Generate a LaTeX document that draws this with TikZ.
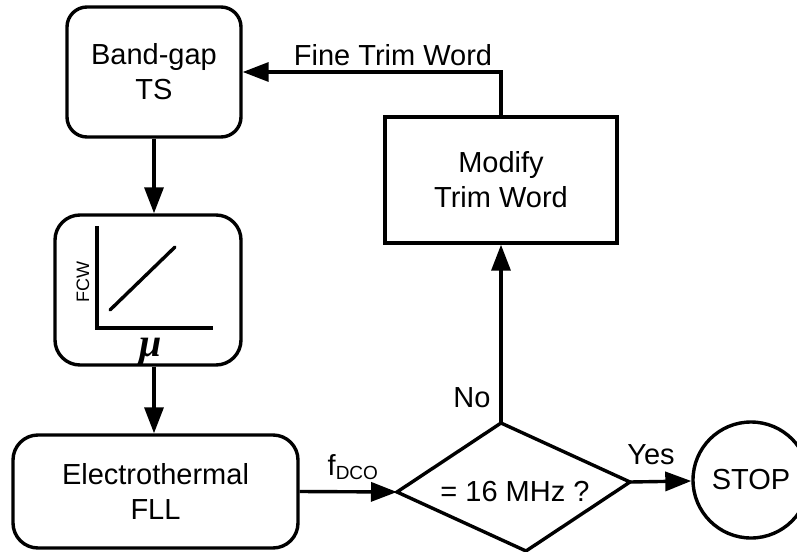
\documentclass[tikz,border=0pt]{standalone}
\usepackage{fontspec}
\setmainfont{Liberation Sans}
\newfontfamily\mufont{Liberation Serif}
\usetikzlibrary{arrows.meta}
\begin{document}
\begin{tikzpicture}[x=1pt,y=-1pt,
  line width=3.4pt,
  txt/.style={font=\fontsize{29}{35}\selectfont, align=center, inner sep=0pt},
  rbox/.style={txt, draw, rounded corners=#1},
  sqbox/.style={txt, draw},
  flow/.style={-{Triangle[length=26pt,width=19pt]}},
  lbl/.style={font=\fontsize{29}{35}\selectfont, inner sep=0pt}]
\useasboundingbox (0,0) rectangle (797,551);

% blocks
\node[rbox=20pt, minimum width=174pt, minimum height=130pt] (bg) at (154,72) {Band-gap\\TS};
\node[rbox=25pt, minimum width=186pt, minimum height=150pt] (fcw) at (148,290) {};
\node[rbox=25pt, minimum width=285pt, minimum height=113pt] (eth) at (155.5,491.5) {Electrothermal\\FLL};
\node[sqbox, minimum width=232pt, minimum height=126pt] (mod) at (501,180) {Modify\\Trim Word};
\node[txt, draw, circle, minimum size=116pt] (stop) at (751,480) {STOP};

% decision (skewed diamond)
\coordinate (dL) at (397,492);
\coordinate (dT) at (501,423);
\coordinate (dR) at (630,482);
\coordinate (dB) at (526,551);
\draw[line join=miter] (dL) -- (dT) -- (dR) -- (dB) -- cycle;
\node[txt] (cond) at (515,492) {= 16 MHz ?};

% FCW versus mu characteristic
\coordinate (ax0) at (97,328);
\coordinate (axY) at (97,226);
\coordinate (axX) at (213,328);
\draw (axY) -- (ax0) -- (axX);
\draw[line cap=round] (110,310) -- (175,247);
\node[font=\fontsize{18}{20}\selectfont, rotate=90, inner sep=0pt] (ylab) at (83,282) {FCW};
\node[font=\fontsize{40}{40}\selectfont\mufont\bfseries\itshape, inner sep=0pt] (xlab) at (151,352) {μ};

% connectors
\draw[flow] (bg.south) -- (bg.south |- fcw.north);
\draw[flow] (bg.south |- fcw.south) -- (bg.south |- eth.north);
\draw[flow] (eth.east) -- (dL);
\draw[flow] (dR) -- (stop);
\draw[flow] (dT) -- (mod.south);
\draw[flow] (mod.north) |- (bg.east);

% labels
\node[lbl] (ftw) at (393,55) {Fine Trim Word};
\node[lbl] (no) at (472,398) {No};
\node[lbl] (yes) at (651,455) {Yes};
\node[lbl, anchor=base west] (fdco) at (326,475) {f\textsubscript{\fontsize{19}{20}\selectfont DCO}};
\end{tikzpicture}
\end{document}
